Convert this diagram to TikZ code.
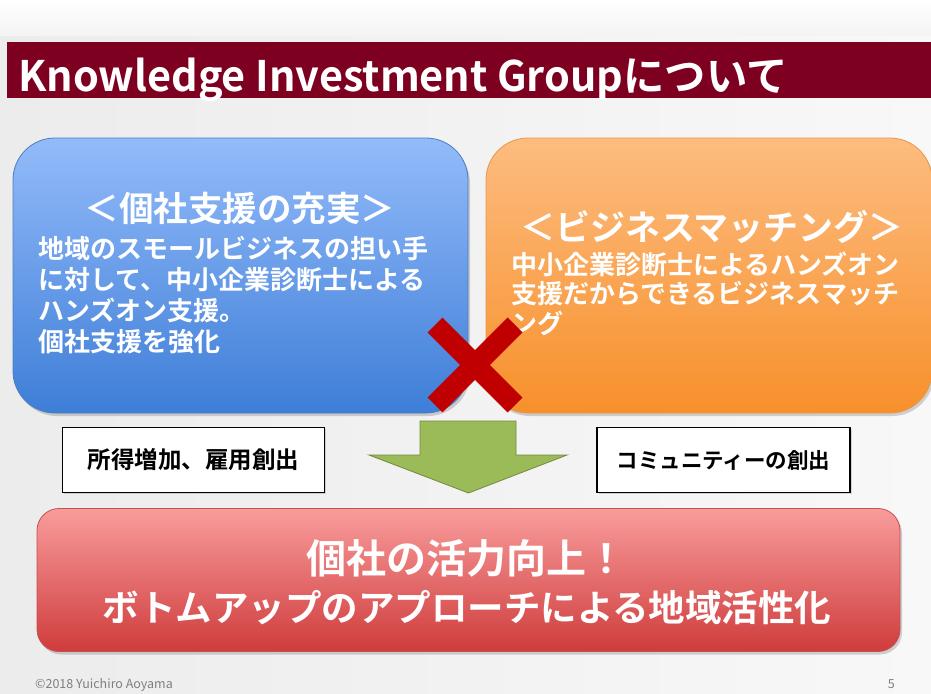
\documentclass[tikz,border=0pt]{standalone}
\usepackage{fontspec}
\setmainfont{Noto Sans CJK JP}[BoldFont={Noto Sans CJK JP Bold}]
\newfontfamily\titlefont{Noto Sans CJK JP Bold}[FakeStretch=0.985]
\newfontfamily\labelfont{Noto Sans CJK JP Bold}
\usetikzlibrary{shadows}
\definecolor{bandred}{HTML}{7E0021}
\definecolor{bluetop}{HTML}{93BBFA}
\definecolor{bluebot}{HTML}{3E7ED7}
\definecolor{blueedge}{HTML}{4A7EC0}
\definecolor{orgtop}{HTML}{FDBC80}
\definecolor{orgbot}{HTML}{F7902B}
\definecolor{orgedge}{HTML}{E8964A}
\definecolor{redtop}{HTML}{F99C9C}
\definecolor{redbot}{HTML}{CF3C3C}
\definecolor{rededge}{HTML}{C65050}
\definecolor{xred}{HTML}{C00000}
\definecolor{arrgreen}{HTML}{9BBB59}
\definecolor{arredge}{HTML}{71893F}
\definecolor{bgleft}{HTML}{ECECEC}
\definecolor{bgright}{HTML}{F8F8F8}
\definecolor{foot}{HTML}{7F7F7F}
\begin{document}
\begin{tikzpicture}[x=1pt,y=-1pt,
  bigbox/.style={rectangle, rounded corners=42pt, line width=0.8pt, inner sep=0pt,
    drop shadow={opacity=0.35, shadow xshift=2pt, shadow yshift=-3pt}},
  wtext/.style={text=white, inner sep=0pt, font=\bfseries},
  labelbox/.style={rectangle, draw=black, line width=1.8pt, fill=white, inner sep=0pt,
    minimum width=262pt, minimum height=65pt,
    drop shadow={opacity=0.3, shadow xshift=1.5pt, shadow yshift=-1.5pt}},
  xbar/.style={line width=21pt, color=xred}
]
\useasboundingbox (0,0) rectangle (931,693);
% background
\shade[left color=bgleft, right color=bgright] (0,0) rectangle (931,693);
\shade[top color=white, bottom color=bgleft!60!white] (0,0) rectangle (931,36);
% title band
\fill[bandred] (7,42) rectangle (931,98);
\node[anchor=base west, inner sep=0pt, text=white, font=\titlefont\fontsize{42}{46}\selectfont] (title) at (18,91) {Knowledge Investment Groupについて};
% blue box
\node[bigbox, draw=blueedge, top color=bluetop, bottom color=bluebot,
  minimum width=455pt, minimum height=275pt] (blue) at (240.5,275.5) {};
\node[wtext, anchor=base, font=\bfseries\fontsize{34.5}{36}\selectfont] (bluetitle) at (240,221) {＜個社支援の充実＞};
\node[wtext, anchor=base west, align=left, font=\bfseries\fontsize{26}{31}\selectfont] (bluebody) at (38,351)
  {地域のスモールビジネスの担い手\\に対して、中小企業診断士による\\ハンズオン支援。\\個社支援を強化};
% orange box
\node[bigbox, draw=orgedge, top color=orgtop, bottom color=orgbot,
  minimum width=446pt, minimum height=275pt] (orange) at (709,275.5) {};
\node[wtext, anchor=base, font=\bfseries\fontsize{35}{36}\selectfont] (orgtitle) at (712,240) {＜ビジネスマッチング＞};
\node[wtext, anchor=base west, align=left, font=\bfseries\fontsize{26}{29.5}\selectfont] (orgbody) at (511,333)
  {中小企業診断士によるハンズオン\\支援だからできるビジネスマッチ\\ング};
% red cross
\coordinate (xc) at (475,365);
\draw[xbar] ([shift={(-40,-40)}]xc) -- ([shift={(40,40)}]xc);
\draw[xbar] ([shift={(40,-40)}]xc) -- ([shift={(-40,40)}]xc);
% labels
\node[labelbox, font=\labelfont\fontsize{23.5}{26}\selectfont] (lab1) at (193.5,460) {所得増加、雇用創出};
\node[labelbox, minimum width=253pt, font=\labelfont\fontsize{21.5}{24}\selectfont] (lab2) at (723.5,460) {コミュニティーの創出};
% green arrow
\filldraw[fill=arrgreen, draw=arredge, line width=0.8pt, line join=miter]
  (420,421) -- (516,421) -- (516,455) -- (567,455) -- (468.5,493) -- (369,455) -- (420,455) -- cycle;
% red result box
\node[bigbox, rounded corners=22pt, draw=rededge, top color=redtop, bottom color=redbot,
  minimum width=863pt, minimum height=143pt] (result) at (468.5,580) {};
\node[wtext, anchor=base, font=\bfseries\fontsize{40}{44}\selectfont] (result1) at (466,573)
  {個社の活力向上！};
\node[wtext, anchor=base, font=\bfseries\fontsize{36.5}{40}\selectfont] (result2) at (467,621)
  {ボトムアップのアプローチによる地域活性化};
% footer
\node[anchor=base west, inner sep=0pt, text=foot, font=\fontsize{12.5}{14}\selectfont] (copy) at (35,688) {©2018 Yuichiro Aoyama};
\node[anchor=base east, inner sep=0pt, text=foot, font=\fontsize{12.5}{14}\selectfont] (page) at (895,688) {5};
\end{tikzpicture}
\end{document}
